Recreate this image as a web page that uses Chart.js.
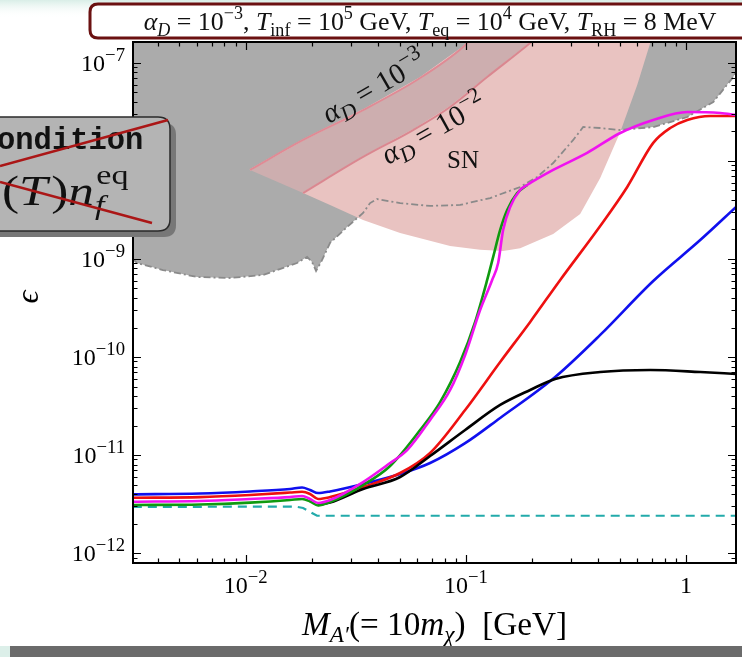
<!DOCTYPE html>
<html>
<head>
<meta charset="utf-8">
<script src="https://cdn.jsdelivr.net/npm/chart.js@4.4.1/dist/chart.umd.min.js"></script>
<style>
  html, body { margin: 0; padding: 0; background: #fff; overflow: hidden; }
  #wrap { position: relative; width: 742px; height: 657px; }
  canvas { display: block; }
</style>
</head>
<body>
<div id="wrap"><canvas id="c" width="742" height="657"></canvas></div>
<script>
// ---- axis limits (M_A' in GeV, kinetic mixing epsilon) ----
const X_MIN = 0.003075, X_MAX = 1.688;
const Y_MIN = 7.91e-13, Y_MAX = 1.637e-7;
const xTickExps = [-2, -1, 0];
const yTickExps = [-12, -11, -10, -9, -8, -7];

// ---- freeze-in curves epsilon(M_A') ----
const blueM = [0.00307, 0.0062, 0.01046, 0.0159, 0.01803, 0.0196, 0.02131, 0.02416, 0.03413, 0.05029, 0.06881, 0.09927, 0.1432, 0.2546, 0.4078, 0.7101, 1.161, 1.69];
const blueEps = [3.97e-12, 4.05e-12, 4.25e-12, 4.50e-12, 4.66e-12, 4.40e-12, 4.09e-12, 4.25e-12, 5.06e-12, 6.40e-12, 8.28e-12, 1.32e-11, 2.39e-11, 6.25e-11, 1.68e-10, 5.97e-10, 1.56e-9, 3.40e-9];

const redM = [0.00307, 0.0062, 0.01046, 0.0159, 0.01803, 0.0196, 0.02131, 0.02416, 0.03413, 0.05029, 0.06881, 0.09927, 0.1432, 0.196, 0.2684, 0.4078, 0.541, 0.7101, 0.8484, 1.014, 1.29, 1.69];
const redEps = [3.66e-12, 3.72e-12, 3.91e-12, 4.14e-12, 4.22e-12, 4.00e-12, 3.56e-12, 3.72e-12, 4.71e-12, 6.55e-12, 1.05e-11, 2.88e-11, 8.89e-11, 2.28e-10, 6.11e-10, 2.17e-9, 5.43e-9, 1.53e-8, 2.17e-8, 2.62e-8, 2.88e-8, 2.88e-8];

const magM = [0.00307, 0.0062, 0.01046, 0.0159, 0.01803, 0.0196, 0.02131, 0.02416, 0.03413, 0.04528, 0.0541, 0.06881, 0.08484, 0.09927, 0.1161, 0.1317, 0.1402, 0.1477, 0.159, 0.1765, 0.19, 0.2493, 0.3558, 0.5029, 0.7101, 1.014, 1.432, 1.69];
const magEps = [3.34e-12, 3.40e-12, 3.56e-12, 3.72e-12, 3.82e-12, 3.56e-12, 3.24e-12, 3.47e-12, 5.30e-12, 8.28e-12, 1.12e-11, 2.28e-11, 4.61e-11, 1.05e-10, 3.02e-10, 6.11e-10, 9.10e-10, 1.98e-9, 3.40e-9, 5.06e-9, 5.69e-9, 8.10e-9, 1.21e-8, 1.93e-8, 2.62e-8, 3.16e-8, 3.09e-8, 2.95e-8];

const greenM = [0.00307, 0.0062, 0.01046, 0.0159, 0.01803, 0.0196, 0.02131, 0.02416, 0.03413, 0.04528, 0.06198, 0.07639, 0.09421, 0.1102, 0.125, 0.1331, 0.1432, 0.1541, 0.1711, 0.19];
const greenEps = [3.09e-12, 3.13e-12, 3.27e-12, 3.47e-12, 3.56e-12, 3.36e-12, 3.05e-12, 3.31e-12, 4.94e-12, 7.73e-12, 1.80e-11, 3.47e-11, 8.89e-11, 2.28e-10, 6.11e-10, 1.05e-9, 1.98e-9, 3.16e-9, 4.71e-9, 5.69e-9];

const blackM = [0.02131, 0.02416, 0.03413, 0.05029, 0.06881, 0.09927, 0.1432, 0.196, 0.2546, 0.4078, 0.6881, 1.161, 1.69];
const blackEps = [3.09e-12, 3.27e-12, 4.50e-12, 5.97e-12, 9.77e-12, 1.80e-11, 3.24e-11, 4.61e-11, 5.97e-11, 7.03e-11, 7.37e-11, 7.03e-11, 6.71e-11];

const cyanM = [0.00307, 0.01675, 0.01822, 0.02109, 1.69];
const cyanEps = [2.95e-12, 2.98e-12, 2.88e-12, 2.40e-12, 2.40e-12];

// ---- excluded region (upper edge of the allowed area) ----
const exclM = [0.00305, 0.003205, 0.004208, 0.006006, 0.008484, 0.01198, 0.01711, 0.019, 0.02001, 0.02087, 0.022, 0.02416, 0.02887, 0.03413, 0.03673, 0.03952, 0.05029, 0.06881, 0.09421, 0.129, 0.1765, 0.2109, 0.2493, 0.3075, 0.3413, 0.4078, 0.5029, 0.7101, 1.014, 1.331, 1.641, 1.75];
const exclEps = [1.02e-9, 9.10e-10, 7.72e-10, 6.55e-10, 6.40e-10, 6.87e-10, 9.10e-10, 1.05e-9, 9.31e-10, 7.55e-10, 9.31e-10, 1.46e-9, 2.12e-9, 2.95e-9, 3.72e-9, 4.09e-9, 3.72e-9, 3.48e-9, 3.56e-9, 4.19e-9, 5.43e-9, 6.87e-9, 9.54e-9, 1.64e-8, 2.22e-8, 2.17e-8, 2.07e-8, 2.22e-8, 2.81e-8, 4.00e-8, 7.19e-8, 9.54e-8];

// ---- supernova bounds ----
const alpha3M = [0.01046, 0.01822, 0.03413, 0.06198, 0.0972, 0.1114];
const alpha3Eps = [8.10e-9, 1.64e-8, 3.31e-8, 7.03e-8, 1.456e-7, 2.0e-7];
const alpha2M = [0.01822, 0.03413, 0.0576, 0.08484, 0.125, 0.196, 0.22];
const alpha2Eps = [4.71e-9, 1.10e-8, 2.07e-8, 3.56e-8, 7.19e-8, 1.60e-7, 2.0e-7];
const snEdgeM = [0.7101, 0.6881, 0.6006, 0.5029, 0.4078, 0.3307, 0.2493, 0.1765, 0.1477, 0.1161, 0.08484, 0.05029, 0.03413, 0.02416, 0.01822];
const snEdgeEps = [2.0e-7, 1.60e-7, 5.97e-8, 1.98e-8, 6.71e-9, 2.88e-9, 1.80e-9, 1.29e-9, 1.21e-9, 1.24e-9, 1.36e-9, 1.84e-9, 2.50e-9, 3.56e-9, 4.71e-9];

const pts = (xs, ys) => xs.map((v, k) => ({ x: v, y: ys[k] }));
const snPoly = pts(alpha2M, alpha2Eps).concat(pts(snEdgeM, snEdgeEps));
const bandPoly = pts(alpha3M, alpha3Eps).concat(pts(alpha2M, alpha2Eps).reverse());

// ---- small math-text renderer for canvas ----
const SERIF = '"Liberation Serif", "DejaVu Serif", serif';
const R = t => ({ t });
const I = t => ({ t, i: true });
const SUP = (t, i) => ({ t, s: 'sup', i });
const SUB = (t, i) => ({ t, s: 'sub', i });

function fontOf(p, size, k) {
  const s = p.s ? size * (k || 0.7) : size;
  return (p.i ? 'italic ' : '') + s.toFixed(2) + 'px ' + SERIF;
}
function mathWidth(ctx, parts, size, k) {
  let w = 0;
  for (const p of parts) { ctx.font = fontOf(p, size, k); w += ctx.measureText(p.t).width; }
  return w;
}
function drawMath(ctx, parts, x, y, size, align, k) {
  const w = mathWidth(ctx, parts, size, k);
  let cx = align === 'center' ? x - w / 2 : align === 'right' ? x - w : x;
  ctx.textAlign = 'left';
  ctx.textBaseline = 'alphabetic';
  for (const p of parts) {
    ctx.font = fontOf(p, size, k);
    const dy = p.s === 'sub' ? size * 0.22 : p.s === 'sup' ? -size * 0.42 : 0;
    ctx.fillText(p.t, cx, y + dy);
    cx += ctx.measureText(p.t).width;
  }
  return w;
}
function fitSize(ctx, parts, width, base) {
  return base * width / mathWidth(ctx, parts, base);
}
function roundRect(ctx, x, y, w, h, r) {
  ctx.beginPath();
  ctx.moveTo(x + r, y);
  ctx.lineTo(x + w - r, y); ctx.quadraticCurveTo(x + w, y, x + w, y + r);
  ctx.lineTo(x + w, y + h - r); ctx.quadraticCurveTo(x + w, y + h, x + w - r, y + h);
  ctx.lineTo(x + r, y + h); ctx.quadraticCurveTo(x, y + h, x, y + h - r);
  ctx.lineTo(x, y + r); ctx.quadraticCurveTo(x, y, x + r, y);
  ctx.closePath();
}
function logTicks(min, max) {
  const out = [];
  for (let e = Math.floor(Math.log10(min)); e <= Math.floor(Math.log10(max)); e++) {
    for (let k = 1; k <= 9; k++) {
      const v = k * Math.pow(10, e);
      if (v >= min && v <= max) out.push({ v, major: k === 1 });
    }
  }
  return out;
}
const expLabel = e => e === 0 ? [R('1')] : [R('10'), SUP('\u2212' + Math.abs(e))];

// ---- page background ----
const pageBackground = {
  id: 'pageBackground',
  beforeDraw(chart) {
    const { ctx, width, height } = chart;
    ctx.save();
    ctx.fillStyle = '#fff';
    ctx.fillRect(0, 0, width, height);
    const g = ctx.createLinearGradient(0, 0, 0, 18);
    g.addColorStop(0, '#d9eee7');
    g.addColorStop(1, 'rgba(255,255,255,0)');
    ctx.fillStyle = g;
    ctx.fillRect(0, 0, width, 18);
    ctx.restore();
  }
};

// ---- frame, inward ticks, labels and region annotations ----
const axesFrame = {
  id: 'axesFrame',
  afterDatasetsDraw(chart) {
    const { ctx, chartArea: a, scales: { x, y } } = chart;
    ctx.save();
    ctx.fillStyle = '#111';
    // region annotations
    const lab3 = [I('\u03B1'), SUB('D', true), R(' = 10'), SUP('\u22123')];
    const lab2 = [I('\u03B1'), SUB('D', true), R(' = 10'), SUP('\u22122')];
    const ls = fitSize(ctx, lab3, 112, 20);
    ctx.save(); ctx.translate(329, 124); ctx.rotate(-30 * Math.PI / 180);
    drawMath(ctx, lab3, 0, 0, ls, 'left', 0.75); ctx.restore();
    ctx.save(); ctx.translate(388, 165); ctx.rotate(-29 * Math.PI / 180);
    drawMath(ctx, lab2, 0, 0, ls, 'left', 0.75); ctx.restore();
    drawMath(ctx, [R('SN')], 447, 168, 25, 'left');

    // ticks
    ctx.strokeStyle = '#000';
    ctx.lineWidth = 1.2;
    ctx.beginPath();
    for (const t of logTicks(X_MIN, X_MAX)) {
      const px = Math.round(x.getPixelForValue(t.v)) + 0.5;
      const len = t.major ? 8 : 4.5;
      ctx.moveTo(px, a.bottom); ctx.lineTo(px, a.bottom - len);
      ctx.moveTo(px, a.top); ctx.lineTo(px, a.top + len);
    }
    for (const t of logTicks(Y_MIN, Y_MAX)) {
      const py = Math.round(y.getPixelForValue(t.v)) + 0.5;
      const len = t.major ? 8 : 4.5;
      ctx.moveTo(a.left, py); ctx.lineTo(a.left + len, py);
      ctx.moveTo(a.right, py); ctx.lineTo(a.right - len, py);
    }
    ctx.stroke();
    ctx.lineWidth = 2;
    ctx.strokeRect(a.left, a.top, a.right - a.left, a.bottom - a.top);

    // tick labels
    ctx.fillStyle = '#000';
    for (const e of xTickExps) {
      drawMath(ctx, expLabel(e), x.getPixelForValue(Math.pow(10, e)), a.bottom + 30, 24, 'center', 0.78);
    }
    for (const e of yTickExps) {
      drawMath(ctx, expLabel(e), a.left - 8, y.getPixelForValue(Math.pow(10, e)) + 8, 24, 'right', 0.78);
    }
    // axis titles
    const xl = [I('M'), SUB('A\u2032', true), R('(= 10'), I('m'), SUB('\u03C7', true), R(')  [GeV]')];
    drawMath(ctx, xl, (302 + 567) / 2, 635, fitSize(ctx, xl, 265, 24), 'center');
    ctx.save(); ctx.translate(38, 297); ctx.rotate(-Math.PI / 2);
    ctx.font = 'italic 32px ' + SERIF; ctx.textAlign = 'center'; ctx.textBaseline = 'alphabetic';
    ctx.fillText('\u03F5', 0, 0);
    ctx.restore();
    ctx.restore();
  },
  afterDraw(chart) {
    const { ctx, width, height } = chart;
    ctx.save();
    // title box
    roundRect(ctx, 90, 4, 700, 34, 8);
    ctx.fillStyle = '#fff'; ctx.fill();
    ctx.lineWidth = 3; ctx.strokeStyle = '#6b1111'; ctx.stroke();
    ctx.fillStyle = '#111';
    const title = [I('\u03B1'), SUB('D', true), R(' = 10'), SUP('\u22123'), R(', '), I('T'), SUB('inf'), R(' = 10'), SUP('5'),
      R(' GeV, '), I('T'), SUB('eq'), R(' = 10'), SUP('4'), R(' GeV, '), I('T'), SUB('RH'), R(' = 8 MeV')];
    drawMath(ctx, title, 430, 30, fitSize(ctx, title, 573, 18), 'center');

    // condition box
    roundRect(ctx, -24, 123, 200, 114, 12);
    ctx.fillStyle = '#777'; ctx.fill();
    roundRect(ctx, -30, 117, 200, 114, 12);
    ctx.fillStyle = '#b4b4b4'; ctx.fill();
    ctx.lineWidth = 1.5; ctx.strokeStyle = '#2a2a2a'; ctx.stroke();
    ctx.fillStyle = '#111';
    ctx.font = 'bold 30.5px "Liberation Mono", "DejaVu Sans Mono", monospace';
    ctx.textAlign = 'left'; ctx.textBaseline = 'alphabetic';
    ctx.fillText('ondition', -3, 149);
    // (T) n_f^eq, drawn slightly widened
    ctx.save();
    ctx.translate(2, 205);
    ctx.scale(1.22, 1);
    const seq = [['(', '42px '], ['T', 'italic 42px '], [')', '42px '], ['n', 'italic 42px ']];
    let cx = 0;
    for (const [t, f] of seq) {
      ctx.font = f + SERIF; ctx.fillText(t, cx, 0);
      cx += ctx.measureText(t).width + (t === 'T' ? 3 : 0);
    }
    ctx.font = 'italic 28px ' + SERIF; ctx.fillText('f', cx + 1, 9);
    ctx.font = '28px ' + SERIF; ctx.fillText('eq', cx + 2, -21);
    ctx.restore();
    ctx.strokeStyle = '#ab1616'; ctx.lineWidth = 2.6;
    ctx.beginPath();
    ctx.moveTo(0, 166); ctx.lineTo(168, 120);
    ctx.moveTo(0, 182); ctx.lineTo(152, 223);
    ctx.stroke();

    // bottom strip
    ctx.fillStyle = '#dcefe9'; ctx.fillRect(0, 646, 10, 11);
    ctx.fillStyle = '#6b6b6b'; ctx.fillRect(10, 646, width - 10, height - 646);
    ctx.restore();
  }
};

const curve = (label, xs, ys, color, order, extra) => Object.assign({
  label, data: pts(xs, ys), showLine: true, borderColor: color, borderWidth: 2.6,
  pointRadius: 0, cubicInterpolationMode: 'monotone', fill: false, order
}, extra || {});

new Chart(document.getElementById('c'), {
  type: 'scatter',
  data: {
    datasets: [
      curve('magenta', magM, magEps, '#f012f0', 1),
      curve('green', greenM, greenEps, '#0f9a0f', 2),
      curve('black', blackM, blackEps, '#000000', 3),
      curve('red', redM, redEps, '#ee1010', 4),
      curve('blue', blueM, blueEps, '#1010ee', 5),
      curve('cyan', cyanM, cyanEps, '#22aaaa', 6, { borderWidth: 2.2, borderDash: [9, 6], cubicInterpolationMode: 'default', tension: 0 }),
      curve('excluded edge', exclM, exclEps, '#8a8a8a', 7, { borderWidth: 1.8, borderDash: [7, 3, 2, 3], cubicInterpolationMode: 'default', tension: 0 }),
      curve('alphaD 1e-3', alpha3M, alpha3Eps, '#df8b95', 8, { borderWidth: 2 }),
      curve('alphaD 1e-2', alpha2M, alpha2Eps, '#da8790', 8, { borderWidth: 2 }),
      { label: 'band', data: bandPoly, showLine: true, pointRadius: 0, borderColor: '#f1c7c7', borderWidth: 1.5,
        backgroundColor: '#cdaeaf', fill: 'shape', tension: 0, order: 9 },
      { label: 'SN', data: snPoly, showLine: true, pointRadius: 0, borderColor: 'rgba(0,0,0,0)', borderWidth: 0,
        backgroundColor: '#e9c3c1', fill: 'shape', tension: 0, order: 10 },
      { label: 'excluded', data: pts(exclM, exclEps), showLine: true, pointRadius: 0, borderColor: 'rgba(0,0,0,0)', borderWidth: 0,
        backgroundColor: '#ababab', fill: 'end', tension: 0, order: 11 }
    ]
  },
  options: {
    responsive: false,
    animation: false,
    events: [],
    layout: { padding: { left: 133, top: 42, right: 6, bottom: 94 } },
    plugins: { legend: { display: false }, tooltip: { enabled: false } },
    scales: {
      x: { type: 'logarithmic', min: X_MIN, max: X_MAX, display: false },
      y: { type: 'logarithmic', min: Y_MIN, max: Y_MAX, display: false }
    }
  },
  plugins: [pageBackground, axesFrame]
});
</script>
</body>
</html>
